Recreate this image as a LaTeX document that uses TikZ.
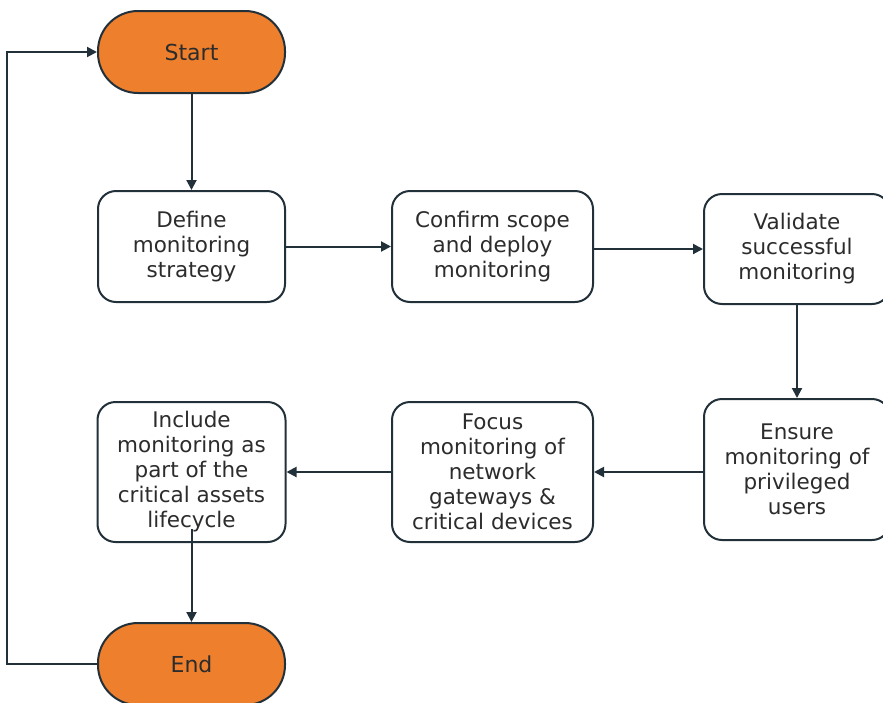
\documentclass[tikz,border=0pt]{standalone}
\usepackage{fontspec}
\setmainfont{DejaVu Sans}
\usetikzlibrary{arrows.meta}
\definecolor{floworange}{HTML}{EE7F2D}
\definecolor{flowline}{HTML}{22303A}
\definecolor{flowtext}{HTML}{2C2C2C}
\begin{document}
\begin{tikzpicture}[x=1pt,y=-1pt,
  every node/.style={font=\fontsize{21.5}{25}\selectfont, text=flowtext, align=center},
  terminal/.style={draw=flowline, line width=2pt, fill=floworange, rounded corners=40pt,
    minimum width=187pt, minimum height=82pt, inner sep=0pt, font=\fontsize{22}{25}\selectfont},
  stepbox/.style={draw=flowline, line width=2pt, fill=white, rounded corners=18pt,
    minimum height=111pt, inner sep=0pt},
  flow/.style={draw=flowline, line width=2pt, -{Triangle[length=10pt,width=10pt]}}
]
\clip (0,0) rectangle (883,702);

% terminals
\node[terminal] (start) at (191.5,52) {Start};
\node[terminal] (finish) at (191.5,664) {End};

% upper row
\node[stepbox, minimum width=187pt] (define) at (191.5,246.5) {Define\\monitoring\\strategy};
\node[stepbox, minimum width=201pt] (confirm) at (492.5,246.5) {Confirm scope\\and deploy\\monitoring};
\node[stepbox, minimum width=186pt, minimum height=110pt] (validate) at (797,249) {Validate\\successful\\monitoring};

% lower row
\node[stepbox, minimum width=186pt, minimum height=141pt] (ensure) at (797,469.5) {Ensure\\monitoring of\\privileged\\users};
\node[stepbox, minimum width=201pt, minimum height=140pt] (focus) at (492.5,472) {Focus\\monitoring of\\network\\gateways \&\\critical devices};
\node[stepbox, minimum width=188pt, minimum height=140pt] (include) at (191.5,472) {Include\\monitoring as\\part of the\\critical assets\\lifecycle};

% connectors
\draw[flow] (start.south) -- (define.north);
\draw[flow] (define.east) -- (confirm.west);
\draw[flow] (confirm.east |- validate.west) -- (validate.west);
\draw[flow] (validate.south) -- (ensure.north);
\draw[flow] (ensure.west |- focus.east) -- (focus.east);
\draw[flow] (focus.west) -- (include.east);
\draw[flow] ([yshift=14pt]include.south) -- (finish.north);
\draw[flow] (finish.west) -- ++(-90,0) |- (start.west);
\end{tikzpicture}
\end{document}
